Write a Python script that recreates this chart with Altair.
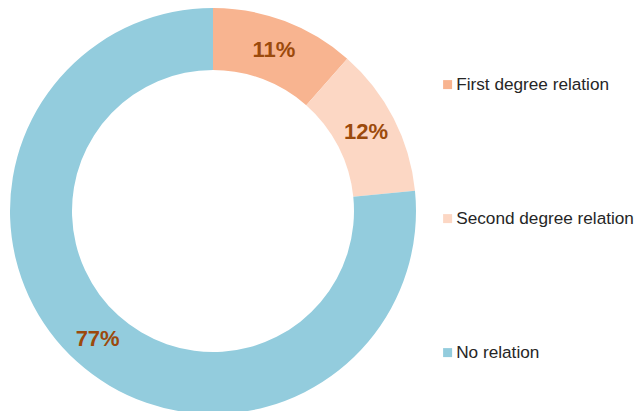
import altair as alt
import pandas as pd

categories = ["First degree relation", "Second degree relation", "No relation"]
shares = [11.5, 11.9, 76.6]
labels = ["11%", "12%", "77%"]
colors = ["#F8B490", "#FCD7C4", "#93CCDD"]

df = pd.DataFrame({
    "category": categories,
    "share": shares,
    "label": labels,
    "order": list(range(len(categories))),
})

base = alt.Chart(df).encode(
    theta=alt.Theta("share:Q", stack=True),
    order=alt.Order("order:Q"),
    x=alt.value(205),
    y=alt.value(203),
)

arc = base.mark_arc(innerRadius=141, outerRadius=203, stroke=None).encode(
    color=alt.Color(
        "category:N",
        sort=categories,
        scale=alt.Scale(domain=categories, range=colors),
        legend=alt.Legend(
            title=None,
            orient="none",
            legendX=431,
            legendY=68,
            symbolType="square",
            symbolSize=81,
            symbolStrokeWidth=0,
            labelFontSize=17.2,
            labelFont="Liberation Sans, Arial, sans-serif",
            labelColor="#262626",
            labelOffset=0,
            labelLimit=400,
            rowPadding=116,
            padding=0,
        ),
    )
)

text = base.mark_text(
    radius=172,
    font="Liberation Sans, Arial, sans-serif",
    fontWeight="bold",
    fontSize=22,
    color="#9C4A0C",
).encode(text="label:N")

chart = (arc + text).properties(
    width=626, height=403, padding=0, autosize=alt.AutoSizeParams(type="none")
).configure_view(stroke=None)

chart.save("out.html", embed_options={"renderer": "svg", "actions": False})
